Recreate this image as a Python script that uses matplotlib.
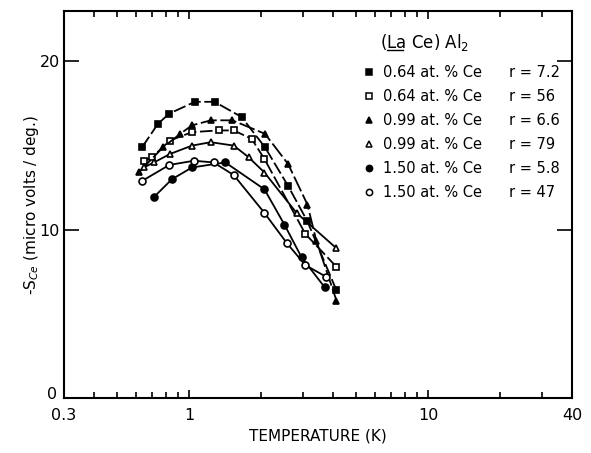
import matplotlib
matplotlib.use("Agg")
import matplotlib.pyplot as plt
import matplotlib.transforms as mtransforms
from matplotlib.ticker import FixedLocator, NullFormatter

# (La Ce) Al2 thermopower
t_sq_f = [0.637, 0.743, 0.828, 1.06, 1.28, 1.66, 2.08, 2.60, 3.13, 4.14]
s_sq_f = [14.9, 16.3, 16.9, 17.6, 17.6, 16.7, 14.9, 12.6, 10.5, 6.4]

t_sq_o = [0.648, 0.70, 0.833, 1.03, 1.33, 1.54, 1.83, 2.07, 3.07, 4.14]
s_sq_o = [14.1, 14.3, 15.3, 15.8, 15.9, 15.9, 15.4, 14.2, 9.75, 7.8]

t_tri_f = [0.621, 0.78, 0.92, 1.03, 1.235, 1.52, 2.08, 2.60, 3.13, 3.41, 4.14]
s_tri_f = [13.45, 14.9, 15.7, 16.2, 16.5, 16.5, 15.7, 13.9, 11.5, 9.35, 5.8]

t_tri_o = [0.648, 0.715, 0.833, 1.03, 1.235, 1.54, 1.78, 2.07, 2.82, 4.14]
s_tri_o = [13.7, 14.0, 14.5, 15.0, 15.2, 15.0, 14.3, 13.4, 11.0, 8.9]

t_ci_f = [0.715, 0.849, 1.03, 1.42, 2.07, 2.51, 2.96, 3.69]
s_ci_f = [11.95, 13.0, 13.7, 14.0, 12.4, 10.3, 8.36, 6.6]

t_ci_o = [0.637, 0.828, 1.05, 1.268, 1.54, 2.07, 2.57, 3.07, 3.76]
s_ci_o = [12.9, 13.85, 14.1, 14.0, 13.25, 11.0, 9.2, 7.9, 7.2]

conc = ["0.64", "0.64", "0.99", "0.99", "1.50", "1.50"]
rvals = ["7.2", "56", "6.6", "79", "5.8", "47"]

series = [
    (t_sq_f, s_sq_f, "s", "k", (0, (7, 2))),
    (t_sq_o, s_sq_o, "s", "white", (0, (7, 2))),
    (t_tri_f, s_tri_f, "^", "k", (0, (9, 2))),
    (t_tri_o, s_tri_o, "^", "white", "-"),
    (t_ci_f, s_ci_f, "o", "k", "-"),
    (t_ci_o, s_ci_o, "o", "white", "-"),
]

plt.rcParams["font.family"] = "DejaVu Sans"

fig = plt.figure(figsize=(5.91, 4.53), dpi=100, facecolor="w")
ax = fig.add_axes([0.108, 0.121, 0.86, 0.855])

for t, s, m, fc, ls in series:
    ax.plot(t, s, linestyle=ls, color="k", linewidth=1.3, marker=m,
            markersize=5, markerfacecolor=fc, markeredgecolor="k",
            markeredgewidth=1.2)

ax.set_xscale("log")
ax.set_xlim(0.3, 40)
ax.set_ylim(0, 23)

ax.xaxis.set_major_locator(FixedLocator([0.3, 1, 10, 40]))
ax.set_xticklabels(["0.3", "1", "10", "40"])
ax.xaxis.set_minor_locator(FixedLocator([0.4, 0.5, 0.6, 0.7, 0.8, 0.9,
                                         2, 3, 4, 5, 6, 7, 8, 9, 20, 30]))
ax.xaxis.set_minor_formatter(NullFormatter())
ax.set_yticks([0, 10, 20])

ax.tick_params(which="both", direction="in", top=True, right=True,
               labelsize=11.5, width=1.2)
ax.tick_params(axis="y", which="major", length=11, pad=3)
ax.tick_params(axis="x", which="major", length=6, pad=7)
ax.tick_params(which="minor", length=4)
for sp in ax.spines.values():
    sp.set_linewidth(1.5)

# lift the "0" so it clears the "0.3" below it, as in the original
zero_lab = ax.get_yticklabels()[0]
zero_lab.set_transform(zero_lab.get_transform() +
                       mtransforms.ScaledTranslation(-2 / 72, 4 / 72,
                                                     fig.dpi_scale_trans))

ax.set_xlabel("TEMPERATURE (K)", fontsize=11, labelpad=4)
ax.set_ylabel("-S$_{Ce}$ (micro volts / deg.)", fontsize=11, labelpad=-1)

# hand-made legend, upper right
ax.text(0.622, 0.918, "(La Ce) Al$_2$", transform=ax.transAxes,
        fontsize=12, va="center")
ax.plot([0.636, 0.668], [0.898, 0.898], color="k", linewidth=1.0,
        transform=ax.transAxes)
for i, (t, s, m, fc, ls) in enumerate(series):
    yy = 0.842 - i * 0.062
    ax.plot([0.6], [yy], marker=m, markersize=4.5, markerfacecolor=fc,
            markeredgecolor="k", markeredgewidth=1.1, linestyle="none",
            transform=ax.transAxes)
    ax.text(0.627, yy, conc[i] + " at. % Ce", transform=ax.transAxes,
            fontsize=10.5, va="center")
    ax.text(0.875, yy, "r = " + rvals[i], transform=ax.transAxes,
            fontsize=10.5, va="center")

fig.savefig("out.png", dpi=100)
